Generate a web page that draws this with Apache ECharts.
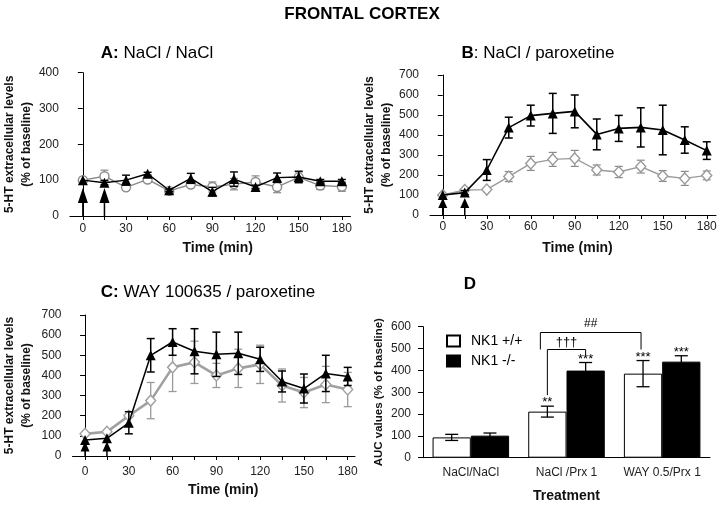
<!DOCTYPE html>
<html><head><meta charset="utf-8">
<script src="https://cdn.jsdelivr.net/npm/echarts@6/dist/echarts.min.js"></script>
<style>html,body{margin:0;padding:0;background:#fff}#c{width:720px;height:508px}</style>
</head><body><div id="c"></div>
<script>
// ---------- data ----------
const times = [0, 15, 30, 45, 60, 75, 90, 105, 120, 135, 150, 165, 180];
const tickTimes = [0, 15, 30, 45, 60, 75, 90, 105, 120, 135, 150, 165, 180];
const labelTimes = [0, 30, 60, 90, 120, 150, 180];
const arrowTimes = [0, 15];

// Panel A: NaCl / NaCl
const aKO = [100, 93, 100, 118, 72, 105, 68, 103, 81, 107, 109, 97, 97];
const aKOErr = [0, 6, 14, 4, 3, 14, 12, 20, 5, 13, 16, 5, 5];
const aWT = [100, 111, 80, 102, 70, 88, 81, 89, 95, 81, 108, 85, 82];
const aWTErr = [0, 17, 5, 8, 3, 8, 14, 16, 17, 16, 15, 11, 13];

// Panel B: NaCl / paroxetine
const bKO = [100, 112, 225, 437, 497, 508, 518, 403, 433, 438, 425, 375, 322];
const bKOErr = [0, 10, 52, 52, 52, 100, 82, 77, 65, 98, 124, 66, 44];
const bWT = [100, 125, 127, 192, 258, 278, 283, 225, 215, 242, 195, 183, 198];
const bWTErr = [0, 8, 0, 25, 35, 35, 40, 25, 28, 32, 27, 35, 22];

// Panel C: WAY 100635 / paroxetine
const cKO = [80, 88, 165, 500, 566, 520, 505, 510, 480, 370, 335, 410, 395];
const cKOErr = [0, 0, 55, 83, 66, 112, 110, 105, 60, 52, 72, 90, 45];
const cWT = [110, 120, 200, 275, 440, 465, 400, 435, 455, 350, 315, 355, 330];
const cWTErr = [8, 8, 8, 90, 120, 105, 60, 95, 95, 82, 75, 90, 85];

// Panel D: AUC
const dCategories = ['NaCl/NaCl', 'NaCl /Prx 1', 'WAY 0.5/Prx 1'];
const dWT = [93, 211, 385];
const dWTErr = [14, 25, 60];
const dKO = [101, 399, 440];
const dKOErr = [12, 37, 27];
const dWTSig = ['', '**', '***'];
const dKOSig = ['', '***', '***'];
const legendNames = ['NK1 +/+', 'NK1 -/-'];

// ---------- helpers ----------
const FONT = '"Liberation Sans", Arial, Helvetica, sans-serif';

function timeAxis(gi, min, max, labelMargin, nameGap, namePad) {
  return {
    type: 'value', gridIndex: gi, min: min, max: max,
    axisLine: { show: true, onZero: false, lineStyle: { color: '#000', width: 1 } },
    axisTick: { show: true, customValues: tickTimes, length: 4, lineStyle: { color: '#000' } },
    axisLabel: { customValues: labelTimes, fontSize: 12, color: '#222', margin: labelMargin },
    splitLine: { show: false },
    name: 'Time (min)', nameLocation: 'middle', nameGap: nameGap,
    nameTextStyle: { fontSize: 14, fontWeight: 'bold', color: '#111', padding: [0, 0, 0, namePad] }
  };
}
function levelAxis(gi, max, gap) {
  return {
    type: 'value', gridIndex: gi, min: 0, max: max, interval: 100,
    axisLine: { show: true, lineStyle: { color: '#000', width: 1 } },
    axisTick: { show: true, length: 5, lineStyle: { color: '#000' } },
    axisLabel: { fontSize: 12, color: '#222', margin: 11 },
    splitLine: { show: false },
    name: '5-HT extracellular levels\n(% of baseline)', nameLocation: 'middle', nameRotate: 90, nameGap: gap,
    nameTextStyle: { fontSize: 12, fontWeight: 'bold', color: '#111', lineHeight: 17, align: 'center' }
  };
}
function errBars(ai, vals, errs, color, capW, lw, z) {
  return {
    type: 'custom', xAxisIndex: ai, yAxisIndex: ai, z: z, silent: true, clip: false,
    data: times.map((t, i) => [t, vals[i], errs[i]]),
    renderItem: function (params, api) {
      const x = api.value(0), v = api.value(1), e = api.value(2);
      if (!e) return { type: 'group', children: [] };
      const hi = api.coord([x, v + e]), lo = api.coord([x, Math.max(0, v - e)]);
      const h = capW / 2, st = { stroke: color, lineWidth: lw };
      return { type: 'group', children: [
        { type: 'line', shape: { x1: hi[0], y1: hi[1], x2: lo[0], y2: lo[1] }, style: st },
        { type: 'line', shape: { x1: hi[0] - h, y1: hi[1], x2: hi[0] + h, y2: hi[1] }, style: st },
        { type: 'line', shape: { x1: lo[0] - h, y1: lo[1], x2: lo[0] + h, y2: lo[1] }, style: st }
      ] };
    }
  };
}
function lineSeries(ai, vals, symbol, size, fill, stroke, lw, z) {
  return {
    type: 'line', xAxisIndex: ai, yAxisIndex: ai, z: z, silent: true,
    data: times.map((t, i) => [t, vals[i]]),
    symbol: symbol, symbolSize: size, showSymbol: true,
    itemStyle: { color: fill, borderColor: stroke, borderWidth: fill === stroke ? 0 : 1.4 },
    lineStyle: { color: stroke, width: lw }
  };
}
function arrows(ai, len, headH, headW) {
  return {
    type: 'custom', xAxisIndex: ai, yAxisIndex: ai, z: 20, silent: true, clip: false,
    data: arrowTimes.map(t => [t, 0]),
    renderItem: function (params, api) {
      const b = api.coord([api.value(0), 0]);
      return { type: 'group', children: [
        { type: 'line', shape: { x1: b[0], y1: b[1], x2: b[0], y2: b[1] - len + headH - 1 }, style: { stroke: '#000', lineWidth: 1.5 } },
        { type: 'polygon', shape: { points: [[b[0], b[1] - len], [b[0] - headW / 2, b[1] - len + headH], [b[0] + headW / 2, b[1] - len + headH]] }, style: { fill: '#000' } }
      ] };
    }
  };
}

// ---------- option ----------
const option = {
  animation: false,
  textStyle: { fontFamily: FONT },
  title: [
    { text: 'FRONTAL CORTEX', left: 362, top: 6, textAlign: 'center', padding: 0,
      textStyle: { fontSize: 17, fontWeight: 'bold', color: '#000', fontFamily: FONT } },
    { text: '{b|A:} NaCl / NaCl', left: 157, top: 45, textAlign: 'center', padding: 0,
      textStyle: { fontSize: 17, fontWeight: 'normal', color: '#000', fontFamily: FONT, rich: { b: { fontWeight: 'bold', fontSize: 17, fontFamily: FONT } } } },
    { text: '{b|B}: NaCl / paroxetine', left: 538, top: 45, textAlign: 'center', padding: 0,
      textStyle: { fontSize: 17, fontWeight: 'normal', color: '#000', fontFamily: FONT, rich: { b: { fontWeight: 'bold', fontSize: 17, fontFamily: FONT } } } },
    { text: '{b|C:} WAY 100635 / paroxetine', left: 208, top: 284, textAlign: 'center', padding: 0,
      textStyle: { fontSize: 17, fontWeight: 'normal', color: '#000', fontFamily: FONT, rich: { b: { fontWeight: 'bold', fontSize: 17, fontFamily: FONT } } } },
    { text: 'D', left: 470, top: 276, textAlign: 'center', padding: 0,
      textStyle: { fontSize: 17, fontWeight: 'bold', color: '#000', fontFamily: FONT } }
  ],
  legend: {
    data: legendNames, orient: 'vertical', left: 446, top: 334, itemWidth: 13, itemHeight: 11, itemGap: 6,
    padding: 0, icon: 'rect', selectedMode: false,
    textStyle: { fontSize: 14, color: '#000', fontFamily: FONT, padding: [0, 0, 0, 6] }
  },
  grid: [
    { left: 61, top: 72.7, width: 289.5, height: 143.3 },
    { left: 430, top: 75, width: 286, height: 140 },
    { left: 70, top: 315, width: 285, height: 141 },
    { left: 423, top: 326.7, width: 287, height: 131 }
  ],
  xAxis: [
    timeAxis(0, -9, 186, 7, 25, 15),
    timeAxis(1, -8.7, 186.3, 6, 26, 9),
    timeAxis(2, -8.6, 185, 10, 27, 19),
    { type: 'category', gridIndex: 3, data: dCategories,
      axisLine: { show: true, lineStyle: { color: '#000', width: 1 } }, axisTick: { show: false },
      axisLabel: { fontSize: 12, color: '#222', margin: 9, interval: 0, hideOverlap: false },
      name: 'Treatment', nameLocation: 'middle', nameGap: 31,
      nameTextStyle: { fontSize: 14, fontWeight: 'bold', color: '#111' } }
  ],
  yAxis: [
    levelAxis(0, 400, 27),
    levelAxis(1, 700, 34.5),
    levelAxis(2, 700, 37.5),
    { type: 'value', gridIndex: 3, min: 0, max: 600, interval: 100,
      axisLine: { show: true, lineStyle: { color: '#000', width: 1 } },
      axisTick: { show: true, length: 5, lineStyle: { color: '#000' } },
      axisLabel: { fontSize: 12, color: '#222', margin: 12 },
      splitLine: { show: false },
      name: 'AUC values (% of baseline)', nameLocation: 'middle', nameRotate: 90, nameGap: 38,
      nameTextStyle: { fontSize: 11.5, fontWeight: 'bold', color: '#111' } }
  ],
  series: [
    // A
    errBars(0, aWT, aWTErr, '#8a8a8a', 8, 1.2, 2),
    errBars(0, aKO, aKOErr, '#000', 8, 1.4, 4),
    lineSeries(0, aWT, 'circle', 9, '#fff', '#8a8a8a', 1.4, 3),
    lineSeries(0, aKO, 'triangle', 10, '#000', '#000', 1.4, 5),
    arrows(0, 28, 15, 10),
    // B
    errBars(1, bWT, bWTErr, '#8a8a8a', 8, 1.2, 2),
    errBars(1, bKO, bKOErr, '#000', 8, 1.5, 4),
    lineSeries(1, bWT, 'diamond', [10, 11], '#fff', '#9a9a9a', 1.4, 3),
    lineSeries(1, bKO, 'triangle', 10, '#000', '#000', 1.6, 5),
    arrows(1, 17, 10, 9),
    // C
    errBars(2, cWT, cWTErr, '#9a9a9a', 8, 1.3, 2),
    errBars(2, cKO, cKOErr, '#000', 8, 1.5, 4),
    lineSeries(2, cWT, 'diamond', [10, 11], '#fff', '#a0a0a0', 2.6, 3),
    lineSeries(2, cKO, 'triangle', 10, '#000', '#000', 1.5, 5),
    arrows(2, 14.5, 10, 9),
    // D bars
    { type: 'bar', name: legendNames[0], xAxisIndex: 3, yAxisIndex: 3, data: dWT,
      barGap: '0%', barCategoryGap: '20%', silent: true,
      itemStyle: { color: '#fff', borderColor: '#000', borderWidth: 1 } },
    { type: 'bar', name: legendNames[1], xAxisIndex: 3, yAxisIndex: 3, data: dKO,
      barGap: '0%', barCategoryGap: '20%', silent: true,
      itemStyle: { color: '#000', borderColor: '#000', borderWidth: 1 } },
    // D error bars and significance marks
    { type: 'custom', xAxisIndex: 3, yAxisIndex: 3, z: 6, silent: true, clip: false,
      data: dCategories.flatMap((c, i) => [[i, dWT[i], dWTErr[i], 0], [i, dKO[i], dKOErr[i], 1]]),
      renderItem: function (params, api) {
        const ci = api.value(0), v = api.value(1), e = api.value(2), side = api.value(3);
        const band = api.size([1, 0])[0];
        const off = (side ? 0.2 : -0.2) * band;
        const hi = api.coord([ci, v + e]), lo = api.coord([ci, v - e]);
        const x = hi[0] + off, h = 6.5, st = { stroke: '#000', lineWidth: 1.3 };
        const sig = side ? dKOSig[ci] : dWTSig[ci];
        return { type: 'group', children: [
          { type: 'line', shape: { x1: x, y1: hi[1], x2: x, y2: lo[1] }, style: st },
          { type: 'line', shape: { x1: x - h, y1: hi[1], x2: x + h, y2: hi[1] }, style: st },
          { type: 'line', shape: { x1: x - h, y1: lo[1], x2: x + h, y2: lo[1] }, style: st },
          { type: 'text', style: { text: sig, x: x, y: hi[1] + 3, align: 'center', verticalAlign: 'bottom',
              fontSize: 13, fontFamily: FONT, fill: '#000' } }
        ] };
      } },
    { type: 'custom', xAxisIndex: 3, yAxisIndex: 3, z: 7, silent: true, clip: false,
      data: [[1, 0]],
      renderItem: function (params, api) {
        const band = api.size([1, 0])[0];
        const wt2 = api.coord([1, dWT[1] + dWTErr[1]]);
        const ko2 = api.coord([1, dKO[1] + dKOErr[1]]);
        const wt3 = api.coord([2, dWT[2] + dWTErr[2]]);
        const xWT2 = wt2[0] - 0.2 * band, xKO2 = ko2[0] + 0.2 * band, xWT3 = wt3[0] - 0.2 * band;
        const yD = ko2[1] - 13;          // dagger bracket height
        const yH = yD - 17;              // hash bracket height
        const st = { stroke: '#000', lineWidth: 1 };
        const xhL = xWT2 - 7, xhR = xWT3 - 2;
        return { type: 'group', children: [
          { type: 'polyline', shape: { points: [[xWT2, wt2[1] - 11], [xWT2, yD], [xKO2, yD], [xKO2, yD + 6]] }, style: Object.assign({ fill: null }, st) },
          { type: 'text', style: { text: '†††', x: (xWT2 + xKO2) / 2, y: yD - 0.5, align: 'center', verticalAlign: 'bottom', fontSize: 13, fontFamily: FONT, fill: '#000' } },
          { type: 'polyline', shape: { points: [[xhL, yD], [xhL, yH], [xhR, yH], [xhR, yD]] }, style: Object.assign({ fill: null }, st) },
          { type: 'text', style: { text: '##', x: (xhL + xhR) / 2, y: yH - 3, align: 'center', verticalAlign: 'bottom', fontSize: 12, fontFamily: FONT, fill: '#000' } }
        ] };
      } }
  ]
};

const chart = echarts.init(document.getElementById('c'), null, { renderer: 'canvas' });
chart.setOption(option);
</script>
</body></html>
